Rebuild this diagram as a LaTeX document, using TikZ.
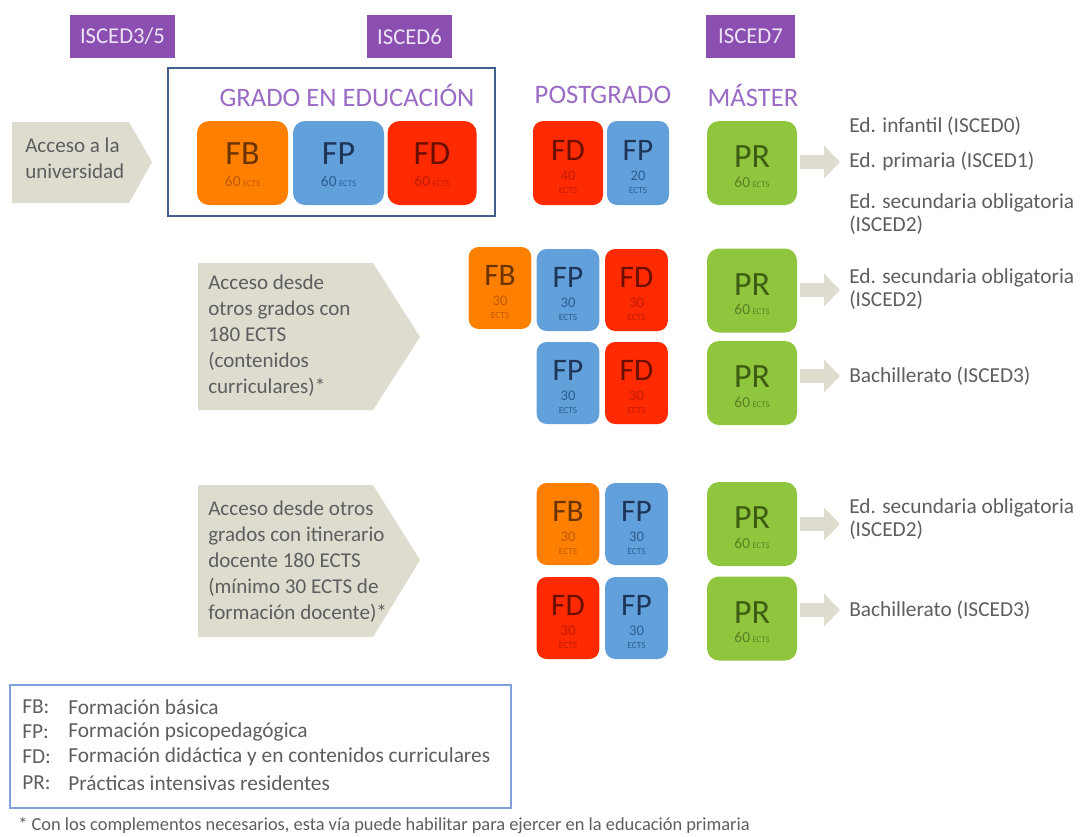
\documentclass[tikz,border=0pt]{standalone}
\usepackage{fontspec}
\setmainfont{Carlito}
\usetikzlibrary{arrows.meta}
\definecolor{cfb}{HTML}{FF8000}
\definecolor{cfp}{HTML}{62A0DC}
\definecolor{cfd}{HTML}{FF2A00}
\definecolor{cpr}{HTML}{8FC63E}
\definecolor{tfb}{HTML}{6A3300}
\definecolor{nfb}{HTML}{C05800}
\definecolor{tfp}{HTML}{1E3558}
\definecolor{nfp}{HTML}{2E5E90}
\definecolor{tfd}{HTML}{6A0E00}
\definecolor{nfd}{HTML}{C01A00}
\definecolor{tpr}{HTML}{3E5C12}
\definecolor{npr}{HTML}{5A8022}
\definecolor{purp}{HTML}{8A4FB0}
\definecolor{lpurp}{HTML}{9A6CC6}
\definecolor{ltxt}{HTML}{EEE4F6}
\definecolor{beige}{HTML}{DEDBCF}
\definecolor{gtext}{HTML}{5E5E5E}
\definecolor{gradoline}{HTML}{40608A}
\definecolor{legline}{HTML}{7FA0D8}
\tikzset{
  blk/.style={rounded corners=9pt, inner sep=0pt, minimum height=63pt},
  sblk/.style={rounded corners=7.5pt, inner sep=0pt, minimum width=47pt, minimum height=61.5pt},
  bletter/.style={inner sep=0pt, font=\fontsize{25.5}{25.5}\selectfont},
  bnum/.style={inner sep=0pt, font=\fontsize{11.5}{11.5}\selectfont},
  sletter/.style={inner sep=0pt, font=\fontsize{23.5}{23.5}\selectfont},
  snum/.style={inner sep=0pt, font=\fontsize{11}{11}\selectfont},
  sects/.style={inner sep=0pt, font=\fontsize{7}{7}\selectfont},
  isced/.style={fill=purp, text=ltxt, inner sep=0pt, minimum height=32pt, font=\fontsize{17}{17}\selectfont},
  head/.style={text=lpurp, font=\fontsize{20}{20}\selectfont},
  outtxt/.style={anchor=west, text=gtext, font=\fontsize{16}{17.5}\selectfont, inner sep=0pt, align=left},
  acctxt/.style={anchor=north west, text=gtext, font=\fontsize{15.8}{19.5}\selectfont, inner sep=0pt, align=left},
  bigarr/.style={draw=beige, line width=10.5pt, -{Triangle[length=12pt, width=24pt]}},
  legtxt/.style={anchor=west, text=gtext, font=\fontsize{16}{16}\selectfont, inner sep=0pt}
}
% name, x, y, box options, fill, letter colour, number colour, letters, number
\newcommand\bigbox[9]{%
  \node[blk, fill=#5, #4] (#1) at (#2,#3) {};
  \node[bletter, text=#6] (#1-l) at ([yshift=6.75pt]#1.center) {#8};
  \node[bnum, text=#7] (#1-n) at ([yshift=-13.5pt]#1.center) {#9\,{\fontsize{6.5}{6.5}\selectfont ECTS}};
}
\newcommand\prbox[3]{%
  \node[blk, fill=cpr, minimum width=67.5pt] (#1) at (#2,#3) {};
  \node[bletter, text=tpr] (#1-l) at ([yshift=4.5pt]#1.center) {PR};
  \node[bnum, text=npr] (#1-n) at ([yshift=-14.25pt]#1.center) {60\,{\fontsize{6.5}{6.5}\selectfont ECTS}};
}
\newcommand\smallbox[9]{%
  \node[sblk, fill=#5, #4] (#1) at (#2,#3) {};
  \node[sletter, text=#6] (#1-l) at ([yshift=9.75pt]#1.center) {#8};
  \node[snum, text=#7] (#1-n) at ([yshift=-9.75pt]#1.center) {#9};
  \node[sects, text=#7] (#1-e) at ([yshift=-20.25pt]#1.center) {ECTS};
}
\begin{document}
\begin{tikzpicture}[x=0.75pt, y=-0.75pt]
\useasboundingbox (0,0) rectangle (1080,836);
\fill[white] (0,0) rectangle (1080,836);
% ISCED labels
\node[isced, minimum width=78.75pt] (i35) at (122.5,36.5) {ISCED3/5};
\node[isced, minimum width=63.75pt] (i6) at (409.5,36.5) {ISCED6};
\node[isced, minimum width=66.75pt] (i7) at (750.5,36.5) {ISCED7};
% headings
\draw[gradoline, line width=1.5pt] (168,68) rectangle (495,216);
\node[head] (hgrado) at (347,95) {GRADO EN EDUCACIÓN};
\node[head] (hpost) at (603,95) {POSTGRADO};
\node[head] (hmas) at (753,95) {MÁSTER};
% row 1
\fill[beige] (12,122) -- (129,122) -- (152,162) -- (129,203) -- (12,203) -- cycle;
\node[acctxt] (acc1) at (25,138) {Acceso a la\\universidad};
\bigbox{g1}{242.5}{163}{minimum width=68.25pt}{cfb}{tfb}{nfb}{FB}{60}
\bigbox{g2}{338.5}{163}{minimum width=68.25pt}{cfp}{tfp}{nfp}{FP}{60}
\bigbox{g3}{432}{163}{minimum width=66.75pt}{cfd}{tfd}{nfd}{FD}{60}
\smallbox{p1}{568}{163}{minimum width=52.5pt, minimum height=63pt}{cfd}{tfd}{nfd}{FD}{40}
\smallbox{p2}{638}{163}{minimum width=46.5pt, minimum height=63pt}{cfp}{tfp}{nfp}{FP}{20}
\prbox{pr1}{752}{163}
\coordinate (e1) at (840,162);
\draw[bigarr] ([xshift=2pt]pr1.east |- e1) -- (e1);
\node[outtxt] (t1a) at (849,126) {Ed. infantil (ISCED0)};
\node[outtxt] (t1b) at (849,161) {Ed. primaria (ISCED1)};
\node[outtxt] (t1c) at (849,214) {Ed. secundaria obligatoria\\(ISCED2)};
% row 2
\fill[beige] (198,263) -- (373,263) -- (420,337) -- (373,410) -- (198,410) -- cycle;
\node[acctxt] (acc2) at (208,275) {Acceso desde\\otros grados con\\180 ECTS\\(contenidos\\curriculares)*};
\smallbox{r2a}{500}{288}{}{cfb}{tfb}{nfb}{FB}{30}
\smallbox{r2b}{568}{290}{}{cfp}{tfp}{nfp}{FP}{30}
\smallbox{r2c}{636.5}{290}{}{cfd}{tfd}{nfd}{FD}{30}
\smallbox{r2d}{568}{383}{}{cfp}{tfp}{nfp}{FP}{30}
\smallbox{r2e}{636.5}{383}{}{cfd}{tfd}{nfd}{FD}{30}
\prbox{pr2}{752}{290.5}
\prbox{pr3}{752}{383}
\coordinate (e2) at (840,290);
\coordinate (e3) at (840,376);
\draw[bigarr] ([xshift=2pt]pr2.east |- e2) -- (e2);
\draw[bigarr] ([xshift=2pt]pr3.east |- e3) -- (e3);
\node[outtxt] (t2) at (849,289) {Ed. secundaria obligatoria\\(ISCED2)};
\node[outtxt] (t3) at (849,376) {Bachillerato (ISCED3)};
% row 3
\fill[beige] (198,485) -- (373,485) -- (420,560) -- (373,637) -- (198,637) -- cycle;
\node[acctxt] (acc3) at (208,501) {Acceso desde otros\\grados con itinerario\\docente 180 ECTS\\(mínimo 30 ECTS de\\formación docente)*};
\smallbox{r3a}{568}{524}{}{cfb}{tfb}{nfb}{FB}{30}
\smallbox{r3b}{636.5}{524}{}{cfp}{tfp}{nfp}{FP}{30}
\smallbox{r3c}{568}{618}{}{cfd}{tfd}{nfd}{FD}{30}
\smallbox{r3d}{636.5}{618}{}{cfp}{tfp}{nfp}{FP}{30}
\prbox{pr4}{752}{524}
\prbox{pr5}{752}{618.5}
\coordinate (e4) at (840,524);
\coordinate (e5) at (840,610);
\draw[bigarr] ([xshift=2pt]pr4.east |- e4) -- (e4);
\draw[bigarr] ([xshift=2pt]pr5.east |- e5) -- (e5);
\node[outtxt] (t4) at (849,519) {Ed. secundaria obligatoria\\(ISCED2)};
\node[outtxt] (t5) at (849,610) {Bachillerato (ISCED3)};
% legend
\draw[legline, line width=1pt] (10,685) rectangle (511,808);
\node[legtxt] (l1a) at (22,707) {FB:};
\node[legtxt] (l1b) at (68,707) {Formación básica};
\node[legtxt] (l2a) at (22,732) {FP:};
\node[legtxt] (l2b) at (68,732) {Formación psicopedagógica};
\node[legtxt] (l3a) at (22,757) {FD:};
\node[legtxt] (l3b) at (68,757) {Formación didáctica y en contenidos curriculares};
\node[legtxt] (l4a) at (22,783) {PR:};
\node[legtxt] (l4b) at (68,783) {Prácticas intensivas residentes};
\node[legtxt, font=\fontsize{13.8}{13.8}\selectfont] (foot) at (18,826) {* Con los complementos necesarios, esta vía puede habilitar para ejercer en la educación primaria};
\end{tikzpicture}
\end{document}
